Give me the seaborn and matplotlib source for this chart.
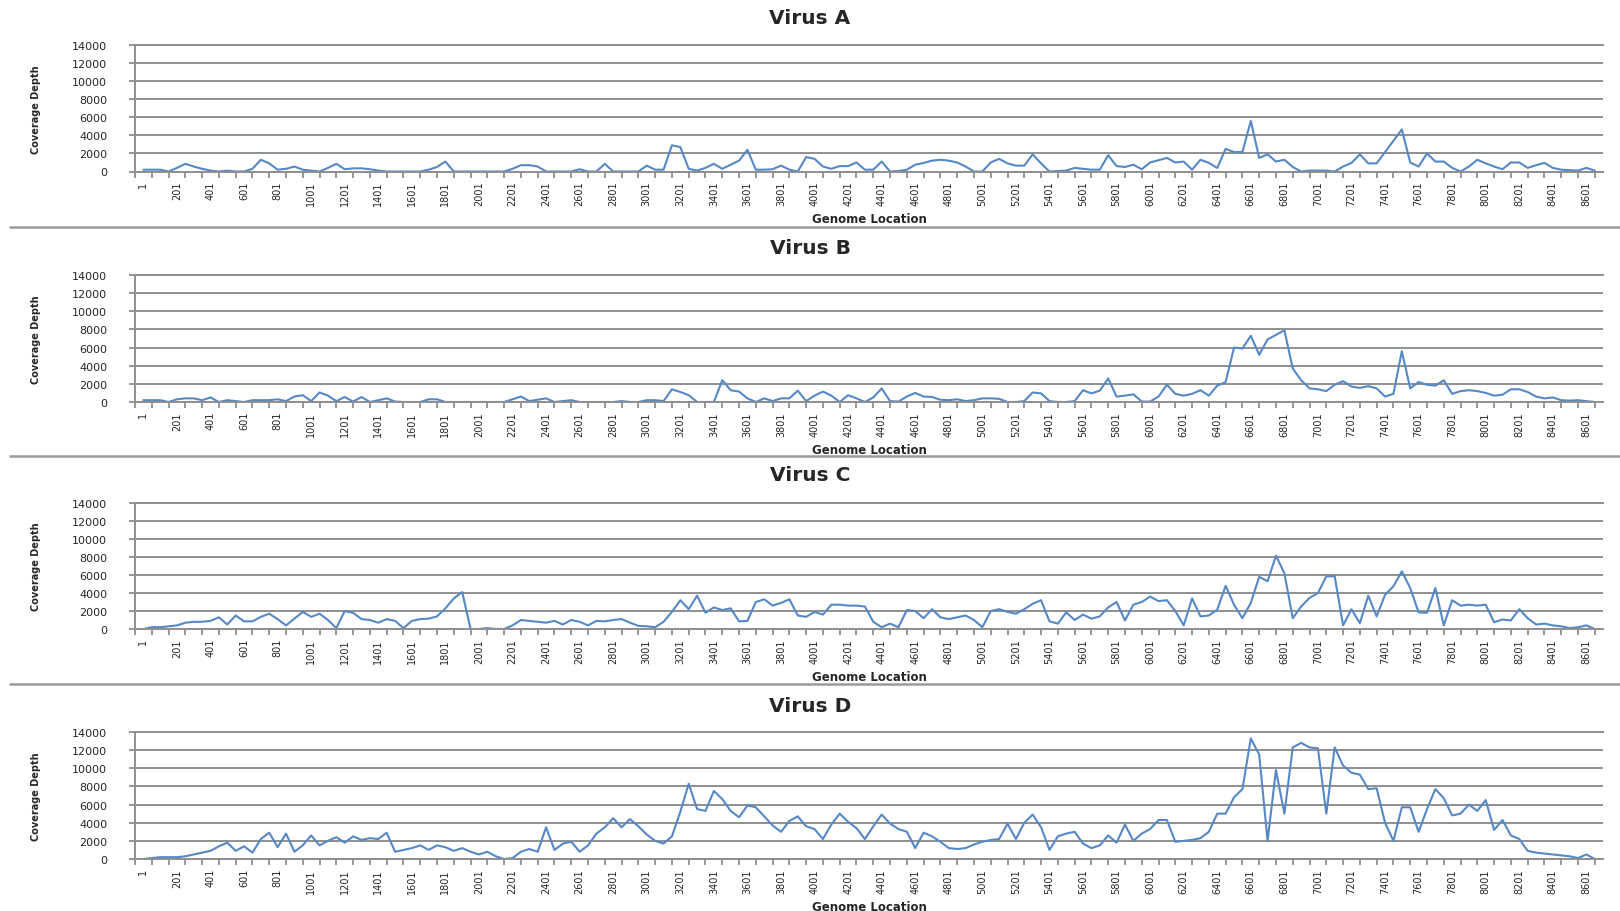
import matplotlib
matplotlib.use("Agg")
import matplotlib.pyplot as plt
from matplotlib.lines import Line2D
import pandas as pd
import seaborn as sns

# Genome positions sampled every 50 bases
genome_location = list(range(1, 8700, 50))

panel_titles = ["Virus A", "Virus B", "Virus C", "Virus D"]

virus_a = [
    200, 200, 200, 0, 400, 850, 550, 300, 100, 0,
    100, 0, 0, 300, 1300, 900, 200, 300, 550, 200,
    100, 0, 400, 850, 250, 350, 350, 250, 100, 0,
    0, 0, 0, 0, 200, 500, 1100, 0, 0, 0,
    0, 0, 0, 0, 300, 700, 700, 550, 0, 0,
    0, 0, 250, 0, 0, 850, 0, 0, 0, 0,
    650, 200, 200, 2900, 2700, 300, 100, 400, 850, 300,
    750, 1200, 2400, 200, 200, 250, 650, 200, 0, 1600,
    1400, 550, 300, 600, 600, 1000, 200, 200, 1100, 0,
    50, 200, 750, 950, 1200, 1300, 1200, 1000, 550, 0,
    0, 1000, 1400, 900, 650, 650, 1900, 900, 0, 50,
    100, 400, 300, 200, 200, 1800, 600, 500, 750, 250,
    1000, 1250, 1500, 1000, 1100, 200, 1300, 950, 400, 2500,
    2150, 2150, 5600, 1500, 1900, 1100, 1300, 500, 0, 100,
    100, 100, 0, 550, 950, 1900, 900, 900, 2150, 3400,
    4650, 1000, 550, 2000, 1100, 1100, 400, 0, 550, 1300,
    900, 550, 250, 1000, 1000, 400, 700, 950, 400, 200,
    150, 100, 400, 100,
]

virus_b = [
    200, 200, 200, 0, 300, 400, 400, 200, 500, 0,
    200, 100, 0, 200, 200, 200, 300, 100, 600, 750,
    100, 1050, 700, 100, 550, 50, 550, 0, 200, 400,
    50, 0, 0, 0, 300, 300, 0, 0, 0, 0,
    0, 0, 0, 0, 300, 600, 100, 250, 400, 0,
    100, 200, 0, 0, 0, 0, 0, 100, 0, 0,
    200, 200, 100, 1400, 1100, 750, 0, 0, 0, 2400,
    1300, 1150, 400, 0, 400, 100, 400, 400, 1250, 100,
    700, 1150, 700, 0, 750, 400, 0, 500, 1500, 100,
    50, 600, 1000, 600, 550, 250, 200, 300, 100, 200,
    400, 400, 350, 0, 0, 100, 1050, 950, 100, 0,
    0, 100, 1300, 950, 1250, 2600, 600, 700, 850, 50,
    50, 600, 1900, 900, 700, 900, 1300, 700, 1800, 2200,
    6000, 5900, 7300, 5200, 6900, 7400, 7900, 3700, 2400, 1500,
    1400, 1200, 1900, 2300, 1700, 1550, 1750, 1500, 600, 900,
    5600, 1500, 2200, 1900, 1800, 2400, 900, 1200, 1300, 1200,
    1000, 700, 800, 1400, 1400, 1100, 600, 400, 500, 200,
    150, 200, 100, 0,
]

virus_c = [
    0, 200, 200, 300, 400, 700, 800, 800, 900, 1300,
    500, 1500, 850, 850, 1350, 1700, 1100, 400, 1150, 1900,
    1350, 1700, 1000, 100, 2000, 1800, 1100, 1000, 700, 1100,
    900, 100, 900, 1100, 1150, 1400, 2300, 3400, 4100, 0,
    0, 100, 0, 0, 400, 1000, 900, 800, 700, 900,
    500, 1000, 800, 400, 900, 850, 1000, 1100, 700, 350,
    300, 200, 800, 1900, 3200, 2200, 3700, 1800, 2400, 2100,
    2300, 850, 900, 3000, 3300, 2600, 2900, 3300, 1500, 1350,
    1900, 1600, 2700, 2700, 2600, 2600, 2500, 800, 200, 600,
    200, 2100, 2000, 1200, 2200, 1300, 1100, 1300, 1500, 1000,
    200, 2000, 2200, 1900, 1700, 2200, 2800, 3200, 850, 600,
    1850, 1000, 1600, 1150, 1400, 2400, 3000, 950, 2700, 3000,
    3600, 3100, 3200, 2000, 400, 3400, 1400, 1500, 2150, 4800,
    2700, 1200, 2900, 5800, 5300, 8150, 6200, 1200, 2500, 3450,
    4000, 5850, 5850, 400, 2200, 650, 3700, 1400, 3800, 4750,
    6400, 4550, 1850, 1800, 4550, 400, 3200, 2600, 2700, 2600,
    2700, 750, 1050, 950, 2200, 1200, 500, 600, 400, 300,
    100, 200, 400, 0,
]

virus_d = [
    0, 100, 200, 200, 200, 300, 500, 700, 900, 1400,
    1800, 900, 1400, 700, 2200, 2900, 1300, 2800, 800, 1500,
    2600, 1500, 2000, 2400, 1800, 2500, 2100, 2300, 2200, 2900,
    800, 1000, 1200, 1500, 1000, 1500, 1300, 900, 1200, 800,
    500, 800, 300, 0, 100, 800, 1100, 800, 3500, 1000,
    1700, 1900, 800, 1500, 2800, 3500, 4500, 3500, 4400, 3600,
    2700, 2000, 1700, 2500, 5200, 8300, 5500, 5300, 7500, 6600,
    5300, 4600, 5900, 5700, 4700, 3700, 3000, 4200, 4700, 3600,
    3300, 2200, 3800, 5000, 4100, 3400, 2200, 3600, 4900, 3900,
    3300, 3000, 1200, 2900, 2500, 1900, 1200, 1100, 1200, 1600,
    1900, 2100, 2200, 3900, 2200, 4000, 4900, 3500, 1000, 2500,
    2800, 3000, 1700, 1200, 1500, 2600, 1800, 3800, 2000, 2800,
    3300, 4300, 4300, 1900, 2000, 2100, 2300, 3000, 5000, 5000,
    6800, 7700, 13300, 11500, 2000, 9800, 5000, 12300, 12800, 12300,
    12200, 5000, 12300, 10300, 9500, 9300, 7700, 7800, 4000, 2000,
    5700, 5700, 3000, 5500, 7700, 6700, 4800, 5000, 6000, 5300,
    6500, 3200, 4300, 2600, 2200, 900, 700, 600, 500, 400,
    300, 100, 500, 0,
]

series = [virus_a, virus_b, virus_c, virus_d]

y_ticks = [0, 2000, 4000, 6000, 8000, 10000, 12000, 14000]
x_label_positions = list(range(1, 8700, 200))
x_tick_labels = [str(p) for p in x_label_positions]
x_boundaries = list(range(-49, 8700, 100))

LINE_BLUE = "#5688c6"
GRID_GRAY = "#8f8f8f"

sns.set_theme(style="white")
plt.rcParams["font.family"] = ["DejaVu Sans"]

fig = plt.figure(figsize=(16.2, 9.12), dpi=100)

W, H = 1620.0, 912.0
left_px, right_px = 135.0, 1603.0
# (top, bottom) of each plotting area and the title centre, in pixels
panel_rows = [(46.0, 172.5, 18.6), (276.0, 403.0, 249.0),
              (504.0, 630.0, 476.0), (733.0, 860.0, 707.0)]

for title, values, (top, bottom, title_y) in zip(panel_titles, series, panel_rows):
    ax = fig.add_axes([left_px / W, 1 - bottom / H,
                       (right_px - left_px) / W, (bottom - top) / H])
    df = pd.DataFrame({"Genome Location": genome_location,
                       "Coverage Depth": values})
    sns.lineplot(data=df, x="Genome Location", y="Coverage Depth", ax=ax,
                 color=LINE_BLUE, linewidth=1.5)

    ax.set_xlim(-49, 8700)
    ax.set_ylim(0, 14000)

    ax.set_yticks(y_ticks)
    ax.set_yticklabels([str(t) for t in y_ticks])
    ax.set_xticks(x_label_positions)
    ax.set_xticklabels(x_tick_labels, rotation=90)
    ax.set_xticks(x_boundaries, minor=True)

    ax.tick_params(axis="x", which="major", length=0, pad=6.5, labelsize=7)
    ax.tick_params(axis="x", which="minor", length=4, width=1.3,
                   color=GRID_GRAY, direction="out", bottom=True)
    ax.tick_params(axis="y", length=4, width=1.3, color=GRID_GRAY,
                   direction="out", left=True, pad=16, labelsize=8)

    ax.grid(axis="y", color=GRID_GRAY, linewidth=1.4)
    ax.grid(axis="x", visible=False)
    ax.set_axisbelow(True)

    for side in ("left", "bottom", "top"):
        ax.spines[side].set_color(GRID_GRAY)
        ax.spines[side].set_linewidth(1.4)
    ax.spines["right"].set_visible(False)

    ax.set_ylabel("Coverage Depth", fontsize=7, fontweight="bold")
    ax.yaxis.set_label_coords(-0.064, 0.5)
    ax.set_xlabel("Genome Location", fontsize=8.5, fontweight="bold")
    ax.xaxis.set_label_coords(0.5, -0.375)
    ax.xaxis.label.set_va("center")

    fig.text(0.5, 1 - title_y / H, title, ha="center", va="center",
             fontsize=14.5, fontweight="bold")

# Divider lines between the stacked charts
for y_px in (228.0, 457.0, 685.0):
    fig.add_artist(Line2D([10 / W, 1.0], [1 - y_px / H, 1 - y_px / H],
                          transform=fig.transFigure, color="#9a9a9a",
                          linewidth=1.8))

fig.savefig("out.png", dpi=100)
